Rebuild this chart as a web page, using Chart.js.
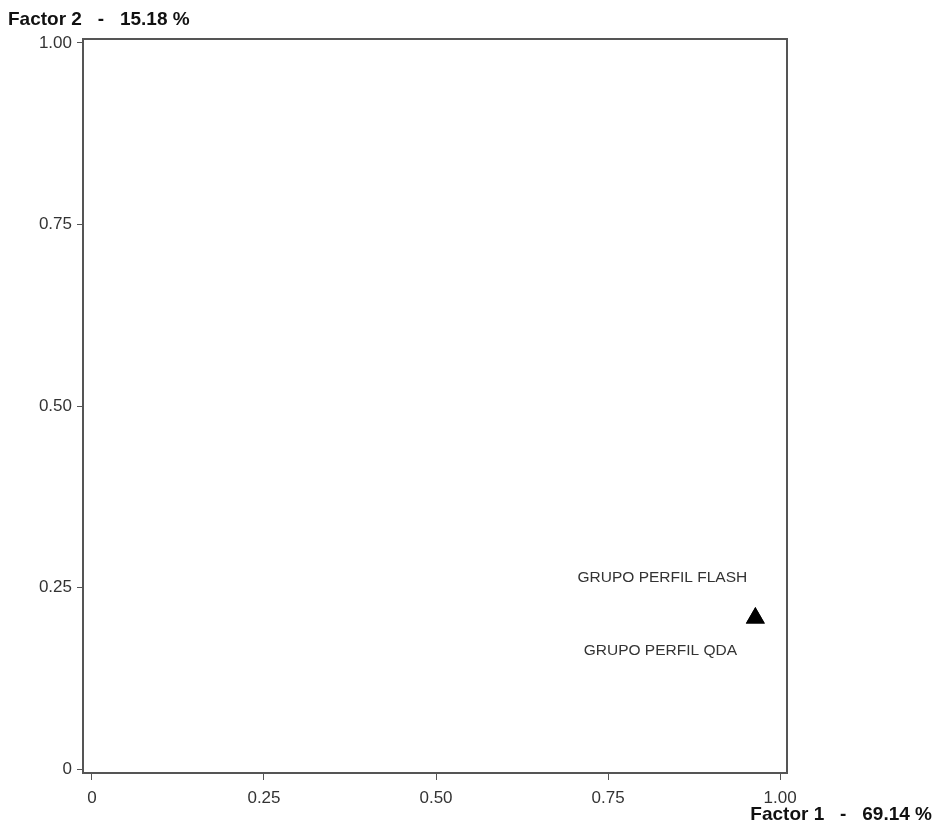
<!DOCTYPE html>
<html>
<head>
<meta charset="utf-8">
<script src="https://cdn.jsdelivr.net/npm/chart.js@4/dist/chart.umd.min.js"></script>
<style>
  html, body { margin: 0; padding: 0; background: #fff; }
  #wrap { width: 936px; height: 826px; }
</style>
</head>
<body>
<div id="wrap"><canvas id="chart"></canvas></div>
<script>
// data
const groups = ['GRUPO PERFIL FLASH', 'GRUPO PERFIL QDA'];
const factor1 = [0.964, 0.964];
const factor2 = [0.208, 0.208];
const tickValues = [0, 0.25, 0.5, 0.75, 1];
const tickLabels = ['0', '0.25', '0.50', '0.75', '1.00'];
const xTitle = 'Factor 1   -   69.14 %';
const yTitle = 'Factor 2   -   15.18 %';

const axisColor = '#555';
const textColor = '#333';
const font = "'Liberation Sans', Arial, sans-serif";

// label above for first group, below for second
const labelOffsets = [[-93, -40], [-95, 33]];

const pointLabels = {
  id: 'pointLabels',
  afterDatasetsDraw(chart) {
    const ctx = chart.ctx;
    ctx.save();
    ctx.font = '15.5px ' + font;
    ctx.fillStyle = textColor;
    ctx.textAlign = 'center';
    ctx.textBaseline = 'middle';
    chart.data.datasets.forEach(function(ds, i) {
      const el = chart.getDatasetMeta(i).data[0];
      ctx.fillText(ds.label, el.x + labelOffsets[i][0], el.y + labelOffsets[i][1]);
    });
    ctx.restore();
  }
};

const axisTitles = {
  id: 'axisTitles',
  afterDraw(chart) {
    const ctx = chart.ctx;
    ctx.save();
    ctx.font = 'bold 19px ' + font;
    ctx.fillStyle = '#111';
    ctx.textBaseline = 'middle';
    ctx.textAlign = 'left';
    ctx.fillText(yTitle, 8, 20);
    ctx.textAlign = 'right';
    ctx.fillText(xTitle, 932, 815);
    ctx.restore();
  }
};

const datasets = groups.map(function(g, i) {
  return {
    label: g,
    data: [{ x: factor1[i], y: factor2[i] }],
    pointStyle: 'triangle',
    pointRadius: 11,
    backgroundColor: '#000',
    borderColor: '#000',
    borderWidth: 0
  };
});

function fixedTicks(scale) {
  scale.ticks = tickValues.map(function(v) { return { value: v }; });
}

new Chart(document.getElementById('chart'), {
  type: 'scatter',
  data: { datasets: datasets },
  options: {
    responsive: true,
    maintainAspectRatio: false,
    animation: false,
    layout: { padding: { top: 39, right: 149, left: 0, bottom: 0 } },
    plugins: { legend: { display: false }, tooltip: { enabled: false } },
    scales: {
      x: {
        min: -0.013,
        max: 1.010,
        afterBuildTicks: fixedTicks,
        afterFit: function(scale) { scale.height = 53; },
        border: { color: axisColor, width: 2 },
        grid: { drawOnChartArea: false, color: axisColor, tickLength: 7 },
        ticks: {
          color: textColor,
          font: { family: font, size: 17 },
          padding: 8,
          maxRotation: 0,
          callback: function(v, idx) { return tickLabels[idx]; }
        }
      },
      y: {
        min: -0.0055,
        max: 1.0055,
        afterBuildTicks: fixedTicks,
        afterFit: function(scale) { scale.width = 83; },
        border: { color: axisColor, width: 2 },
        grid: { drawOnChartArea: false, color: axisColor, tickLength: 6 },
        ticks: {
          color: textColor,
          font: { family: font, size: 17 },
          padding: 5,
          callback: function(v, idx) { return tickLabels[idx]; }
        }
      }
    }
  },
  plugins: [pointLabels, axisTitles,
    {
      id: 'frame',
      afterDraw(chart) {
        const a = chart.chartArea;
        const ctx = chart.ctx;
        ctx.save();
        ctx.strokeStyle = axisColor;
        ctx.lineWidth = 2;
        ctx.beginPath();
        ctx.moveTo(a.left, a.top);
        ctx.lineTo(a.right, a.top);
        ctx.lineTo(a.right, a.bottom);
        ctx.stroke();
        ctx.restore();
      }
    }
  ]
});
</script>
</body>
</html>
